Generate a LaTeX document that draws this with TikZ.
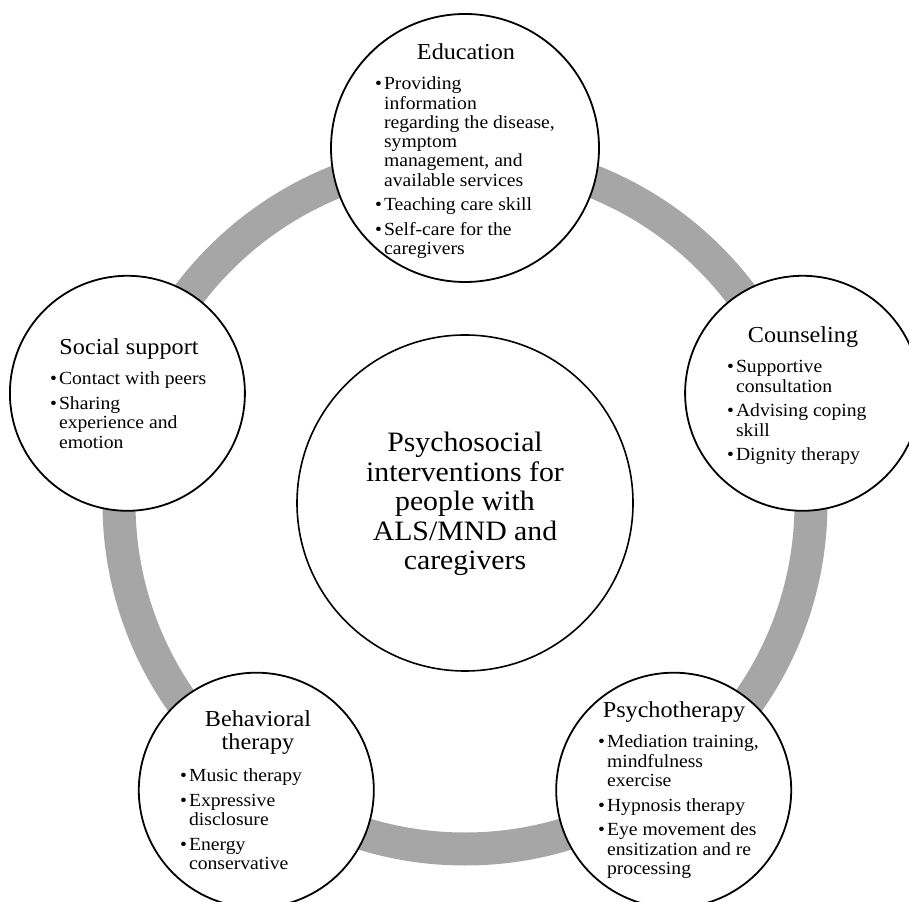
\documentclass[tikz,border=0pt]{standalone}
\usepackage{fontspec}
\setmainfont{Liberation Serif}[FakeStretch=1.06]
\definecolor{ringgray}{HTML}{A6A6A6}
\newcommand\bl{\textbullet}
\newcommand\gap{\\[5.5bp]}
\begin{document}
\begin{tikzpicture}[x=1bp,y=1bp,
  bubble/.style={circle, draw=black, line width=1.8bp, fill=white, inner sep=0pt},
  headtext/.style={anchor=base, inner sep=0pt, font=\fontsize{22.9}{23}\selectfont},
  listtext/.style={anchor=base west, inner sep=0pt, font=\fontsize{18.6}{19.3}\selectfont},
  hubtext/.style={anchor=base, inner sep=0pt, font=\fontsize{28.2}{29.5}\selectfont},
]
\clip (0,0) rectangle (909,902);
\coordinate (hub) at (465,399);

% grey cycle ring behind the bubbles
\draw[line width=33bp, color=ringgray] (hub) circle (346bp);

% central circle
\node[bubble, line width=1.6bp, minimum size=336bp] (core) at (hub) {};
\node[hubtext] (coretext) at (465,450)
  {\begin{tabular}[t]{@{}c@{}}Psychosocial\\interventions for\\people with\\ALS/MND and\\caregivers\end{tabular}};

% outer bubbles on a regular pentagon
\node[bubble, minimum size=268bp] (edu) at (465,754) {};
\node[bubble, minimum size=235bp] (cou) at (802.6,508.7) {};
\node[bubble, minimum size=235bp] (psy) at (673.7,111.8) {};
\node[bubble, minimum size=235bp] (beh) at (256.3,111.8) {};
\node[bubble, minimum size=235bp] (soc) at (127.4,508.7) {};

% Education
\node[headtext] (eduhead) at (466,842) {Education};
\node[listtext] (edulist) at (375,812)
  {\begin{tabular}[t]{@{}l@{\hspace{2bp}}l@{}}
   \bl & Providing\\ & information\\ & regarding the disease,\\ & symptom\\ & management, and\\ & available services\gap
   \bl & Teaching care skill\gap
   \bl & Self-care for the\\ & caregivers
   \end{tabular}};

% Counseling
\node[headtext] (couhead) at (803,559) {Counseling};
\node[listtext] (coulist) at (727,529)
  {\begin{tabular}[t]{@{}l@{\hspace{2bp}}l@{}}
   \bl & Supportive\\ & consultation\gap
   \bl & Advising coping\\ & skill\gap
   \bl & Dignity therapy
   \end{tabular}};

% Social support
\node[headtext] (sochead) at (129,547) {Social support};
\node[listtext] (soclist) at (50,517)
  {\begin{tabular}[t]{@{}l@{\hspace{2bp}}l@{}}
   \bl & Contact with peers\gap
   \bl & Sharing\\ & experience and\\ & emotion
   \end{tabular}};

% Psychotherapy
\node[headtext] (psyhead) at (674,184) {Psychotherapy};
\node[listtext] (psylist) at (598,154)
  {\begin{tabular}[t]{@{}l@{\hspace{2bp}}l@{}}
   \bl & Mediation training,\\ & mindfulness\\ & exercise\gap
   \bl & Hypnosis therapy\gap
   \bl & Eye movement des\\ & ensitization and re\\ & processing
   \end{tabular}};

% Behavioral therapy
\node[headtext] (behhead) at (258,175)
  {\begin{tabular}[t]{@{}c@{}}Behavioral\\therapy\end{tabular}};
\node[listtext] (behlist) at (180,120)
  {\begin{tabular}[t]{@{}l@{\hspace{2bp}}l@{}}
   \bl & Music therapy\gap
   \bl & Expressive\\ & disclosure\gap
   \bl & Energy\\ & conservative
   \end{tabular}};
\end{tikzpicture}
\end{document}
